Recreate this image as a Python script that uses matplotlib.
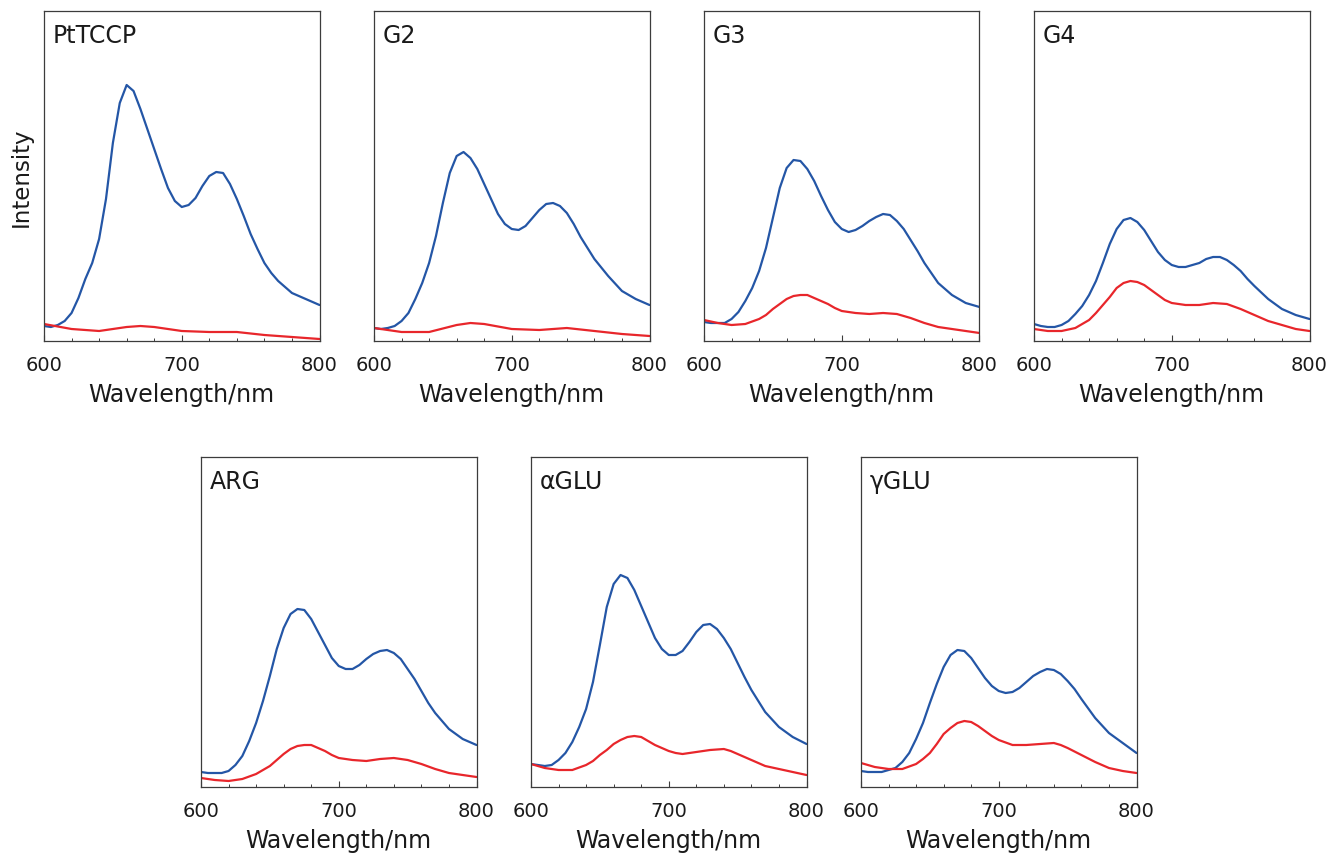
import matplotlib
matplotlib.use("Agg")
import matplotlib.pyplot as plt
from matplotlib.ticker import MultipleLocator

plt.rcParams['font.family'] = ['DejaVu Sans']

BLUE = '#2456a6'
RED = '#e8262b'
FRAME = '#3c3c3c'
TXT = '#1a1a1a'

panel_names = ['PtTCCP', 'G2', 'G3', 'G4', 'ARG', 'αGLU', 'γGLU']

# ---- PtTCCP ----
pt_blue_x = [600, 605, 610, 615, 620, 625, 630, 635, 640, 645, 650, 655, 660, 665, 670, 675, 680, 685, 690, 695,
             700, 705, 710, 715, 720, 725, 730, 735, 740, 745, 750, 755, 760, 765, 770, 780, 790, 800]
pt_blue_y = [15, 14, 16, 20, 28, 43, 62, 78, 102, 142, 198, 238, 256, 250, 232, 212, 192, 172, 153, 140,
             134, 136, 143, 155, 165, 169, 168, 157, 142, 125, 107, 92, 78, 68, 60, 48, 42, 36]
pt_red_x = [600, 620, 640, 660, 670, 680, 700, 720, 740, 760, 780, 800]
pt_red_y = [17, 12, 10, 14, 15, 14, 10, 9, 9, 6, 4, 2]

# ---- G2 ----
g2_blue_x = [600, 605, 610, 615, 620, 625, 630, 635, 640, 645, 650, 655, 660, 665, 670, 675, 680, 685, 690, 695,
             700, 705, 710, 715, 720, 725, 730, 735, 740, 745, 750, 755, 760, 770, 780, 790, 800]
g2_blue_y = [13, 12, 13, 15, 20, 28, 42, 58, 78, 105, 138, 168, 185, 189, 183, 172, 157, 142, 127, 117,
             112, 111, 115, 123, 131, 137, 138, 135, 128, 117, 104, 93, 82, 65, 50, 42, 36]
g2_red_x = [600, 620, 640, 660, 670, 680, 700, 720, 740, 760, 780, 800]
g2_red_y = [13, 9, 9, 16, 18, 17, 12, 11, 13, 10, 7, 5]

# ---- G3 ----
g3_blue_x = [600, 605, 610, 615, 620, 625, 630, 635, 640, 645, 650, 655, 660, 665, 670, 675, 680, 685, 690, 695,
             700, 705, 710, 715, 720, 725, 730, 735, 740, 745, 750, 755, 760, 770, 780, 790, 800]
g3_blue_y = [19, 18, 18, 18, 22, 29, 40, 53, 70, 93, 123, 153, 173, 181, 180, 172, 160, 145, 131, 119,
             112, 109, 111, 115, 120, 124, 127, 126, 120, 112, 101, 90, 78, 58, 46, 38, 34]
g3_red_x = [600, 610, 620, 630, 640, 645, 650, 655, 660, 665, 670, 675, 680, 685, 690, 695, 700, 710, 720, 730,
            740, 750, 760, 770, 780, 790, 800]
g3_red_y = [21, 18, 16, 17, 22, 26, 32, 37, 42, 45, 46, 46, 43, 40, 37, 33, 30, 28, 27, 28,
            27, 23, 18, 14, 12, 10, 8]

# ---- G4 ----
g4_blue_x = [600, 605, 610, 615, 620, 625, 630, 635, 640, 645, 650, 655, 660, 665, 670, 675, 680, 685, 690, 695,
             700, 705, 710, 715, 720, 725, 730, 735, 740, 745, 750, 755, 760, 770, 780, 790, 800]
g4_blue_y = [17, 15, 14, 14, 16, 20, 27, 35, 46, 60, 78, 97, 112, 121, 123, 119, 111, 100, 89, 81,
             76, 74, 74, 76, 78, 82, 84, 84, 81, 76, 70, 62, 55, 42, 32, 26, 22]
g4_red_x = [600, 610, 620, 630, 640, 645, 650, 655, 660, 665, 670, 675, 680, 685, 690, 695, 700, 710, 720, 730,
            740, 750, 760, 770, 780, 790, 800]
g4_red_y = [12, 10, 10, 13, 21, 28, 36, 44, 53, 58, 60, 59, 56, 51, 46, 41, 38, 36, 36, 38,
            37, 32, 26, 20, 16, 12, 10]

# ---- ARG ----
arg_blue_x = [600, 605, 610, 615, 620, 625, 630, 635, 640, 645, 650, 655, 660, 665, 670, 675, 680, 685, 690, 695,
              700, 705, 710, 715, 720, 725, 730, 735, 740, 745, 750, 755, 760, 765, 770, 780, 790, 800]
arg_blue_y = [15, 14, 14, 14, 16, 22, 31, 46, 64, 86, 111, 138, 159, 173, 178, 177, 168, 155, 142, 129,
              121, 118, 118, 122, 128, 133, 136, 137, 134, 128, 118, 108, 96, 84, 74, 58, 48, 42]
arg_red_x = [600, 610, 620, 630, 640, 645, 650, 655, 660, 665, 670, 675, 680, 685, 690, 695, 700, 710, 720, 730,
             740, 750, 760, 770, 780, 790, 800]
arg_red_y = [9, 7, 6, 8, 13, 17, 21, 27, 33, 38, 41, 42, 42, 39, 36, 32, 29, 27, 26, 28,
             29, 27, 23, 18, 14, 12, 10]

# ---- αGLU ----
aglu_blue_x = [600, 605, 610, 615, 620, 625, 630, 635, 640, 645, 650, 655, 660, 665, 670, 675, 680, 685, 690, 695,
               700, 705, 710, 715, 720, 725, 730, 735, 740, 745, 750, 755, 760, 770, 780, 790, 800]
aglu_blue_y = [23, 22, 21, 22, 27, 34, 45, 60, 78, 105, 142, 180, 203, 212, 209, 197, 181, 165, 149, 138,
               132, 132, 136, 145, 155, 162, 163, 158, 149, 138, 124, 110, 97, 75, 60, 50, 43]
aglu_red_x = [600, 610, 620, 630, 640, 645, 650, 655, 660, 665, 670, 675, 680, 685, 690, 695, 700, 705, 710, 720,
              730, 740, 745, 750, 760, 770, 780, 790, 800]
aglu_red_y = [23, 19, 17, 17, 22, 26, 32, 37, 43, 47, 50, 51, 50, 46, 42, 39, 36, 34, 33, 35,
              37, 38, 36, 33, 27, 21, 18, 15, 12]

# ---- γGLU ----
gglu_blue_x = [600, 605, 610, 615, 620, 625, 630, 635, 640, 645, 650, 655, 660, 665, 670, 675, 680, 685, 690, 695,
               700, 705, 710, 715, 720, 725, 730, 735, 740, 745, 750, 755, 760, 770, 780, 790, 800]
gglu_blue_y = [16, 15, 15, 15, 17, 19, 25, 34, 48, 64, 84, 103, 120, 132, 137, 136, 129, 119, 109, 101,
               96, 94, 95, 99, 105, 111, 115, 118, 117, 113, 106, 98, 88, 69, 54, 44, 34]
gglu_red_x = [600, 610, 620, 630, 640, 645, 650, 655, 660, 665, 670, 675, 680, 685, 690, 695, 700, 710, 720, 730,
              740, 745, 750, 760, 770, 780, 790, 800]
gglu_red_y = [24, 20, 18, 18, 23, 28, 34, 43, 53, 59, 64, 66, 65, 61, 56, 51, 47, 42, 42, 43,
              44, 42, 39, 32, 25, 19, 16, 14]

blue_x = [pt_blue_x, g2_blue_x, g3_blue_x, g4_blue_x, arg_blue_x, aglu_blue_x, gglu_blue_x]
blue_y = [pt_blue_y, g2_blue_y, g3_blue_y, g4_blue_y, arg_blue_y, aglu_blue_y, gglu_blue_y]
red_x = [pt_red_x, g2_red_x, g3_red_x, g4_red_x, arg_red_x, aglu_red_x, gglu_red_x]
red_y = [pt_red_y, g2_red_y, g3_red_y, g4_red_y, arg_red_y, aglu_red_y, gglu_red_y]

W, H = 1333, 854
fig = plt.figure(figsize=(W / 100, H / 100), dpi=100)

# pixel boxes (left, top) of each panel
boxes = [(44, 12), (374, 12), (704, 12), (1034, 12),
         (201, 458), (531, 458), (861, 458)]
pw, ph = 275.5, 330

for i, (lx, ty) in enumerate(boxes):
    ax = fig.add_axes([lx / W, (H - ty - ph) / H, pw / W, ph / H])
    ax.plot(blue_x[i], blue_y[i], color=BLUE, lw=1.6, solid_joinstyle='round', solid_capstyle='round')
    ax.plot(red_x[i], red_y[i], color=RED, lw=1.6, solid_joinstyle='round', solid_capstyle='round')
    ax.set_xlim(600, 800)
    ax.set_ylim(0, 330)
    ax.set_yticks([])
    ax.xaxis.set_major_locator(MultipleLocator(100))
    ax.xaxis.set_minor_locator(MultipleLocator(20))
    ax.tick_params(axis='x', which='major', direction='in', length=4, width=0.8,
                   color=FRAME, labelsize=14, pad=10, labelcolor=TXT)
    ax.tick_params(axis='x', which='minor', direction='in', length=2.2, width=0.7, color=FRAME)
    for s in ax.spines.values():
        s.set_color(FRAME)
        s.set_linewidth(0.9)
    ax.set_xlabel('Wavelength/nm', fontsize=17, color=TXT, labelpad=6)
    ax.text(0.033, 0.965, panel_names[i], transform=ax.transAxes, ha='left', va='top',
            fontsize=17, color=TXT)
    if i == 0:
        ax.set_ylabel('Intensity', fontsize=16.5, color=TXT, labelpad=8)

fig.savefig('out.png', dpi=100)
